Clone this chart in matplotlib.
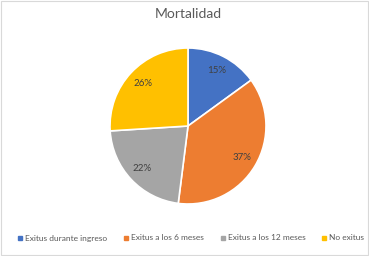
import matplotlib
matplotlib.use("Agg")
import matplotlib.pyplot as plt
from matplotlib.lines import Line2D
from matplotlib.patches import Rectangle

categories = ["Exitus durante ingreso", "Exitus a los 6 meses", "Exitus a los 12 meses", "No exitus"]
values = [15, 37, 22, 26]
colors = ["#4472C4", "#ED7D31", "#A5A5A5", "#FFC000"]
title = "Mortalidad"

plt.rcParams['font.family'] = ['Lato', 'DejaVu Sans']

fig = plt.figure(figsize=(3.69, 2.56), dpi=100)
fig.patch.set_facecolor("white")
ax = fig.add_axes([110/369, 1 - 204/256, 156/369, 156/256])
wedges, texts, autotexts = ax.pie(values, colors=colors, startangle=90, counterclock=False,
       autopct=lambda p: f"{p:.0f}%", pctdistance=0.8,
       wedgeprops=dict(edgecolor="white", linewidth=1.2),
       textprops=dict(fontsize=7, color="#404040"))
ax.set_aspect("equal")
ax.set_xlim(-1, 1)
ax.set_ylim(-1, 1)

fig.text(188/369, 1 - 14/256, title, ha="center", va="center", fontsize=10, color="#595959")

handles = [Line2D([0], [0], marker="s", linestyle="none", markersize=3.0,
                  markerfacecolor=c, markeredgecolor=c) for c in colors]
fig.legend(handles, categories, loc="center", bbox_to_anchor=(191/369, 1 - 238/256), ncol=4,
           frameon=False, fontsize=6.0, handlelength=0.5, handletextpad=0.35, columnspacing=2.0,
           labelcolor="#595959", borderpad=0, borderaxespad=0)

fig.patches.append(Rectangle((0.002, 0.004), 0.996, 0.992, transform=fig.transFigure,
                             fill=False, edgecolor="#D9D9D9", linewidth=0.8))
fig.savefig("out.png", dpi=100)
